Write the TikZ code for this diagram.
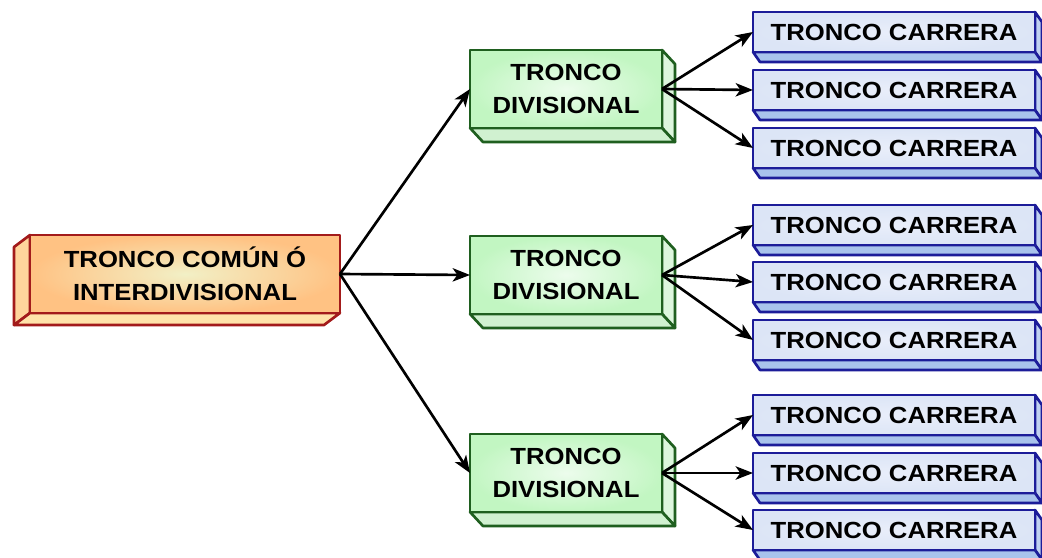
\documentclass[tikz,border=0pt]{standalone}
\usepackage{fontspec}
\newfontfamily\boxfont[FakeStretch=1.1]{Liberation Sans}
\usetikzlibrary{arrows.meta,backgrounds}

\definecolor{rootline}{HTML}{A31B1B}
\definecolor{rootout}{HTML}{FFC283}
\definecolor{rootin}{HTML}{F2F0C6}
\definecolor{rootside}{HTML}{FFD59C}
\definecolor{rootbottom}{HTML}{FFE3AA}
\definecolor{greenline}{HTML}{1F5F1F}
\definecolor{greenout}{HTML}{C2F6C2}
\definecolor{greenin}{HTML}{ECFCEC}
\definecolor{greenside}{HTML}{DDF6DD}
\definecolor{greenbottom}{HTML}{D0F1D0}
\definecolor{blueline}{HTML}{1C1C99}
\definecolor{bluein}{HTML}{E9EEFA}
\definecolor{blueout}{HTML}{DCE5F6}
\definecolor{blueside}{HTML}{BFD0F0}
\definecolor{bluebottom}{HTML}{A9C3EC}

% depth faces of a block, drawn behind its front face
\newcommand\depthright[6]{%
  \filldraw[fill=#4,draw=#6,line width=2pt,line join=round]
    (#1.north east) -- ([shift={(#2,#3)}]#1.north east)
    -- ([shift={(#2,#3)}]#1.south east) -- (#1.south east) -- cycle;
  \filldraw[fill=#5,draw=#6,line width=2pt,line join=round]
    (#1.south west) -- (#1.south east) -- ([shift={(#2,#3)}]#1.south east)
    -- ([shift={(#2,#3)}]#1.south west) -- cycle;}
\newcommand\depthleft[6]{%
  \filldraw[fill=#4,draw=#6,line width=2pt,line join=round]
    (#1.north west) -- ([shift={(#2,#3)}]#1.north west)
    -- ([shift={(#2,#3)}]#1.south west) -- (#1.south west) -- cycle;
  \filldraw[fill=#5,draw=#6,line width=2pt,line join=round]
    (#1.south west) -- (#1.south east) -- ([shift={(#2,#3)}]#1.south east)
    -- ([shift={(#2,#3)}]#1.south west) -- cycle;}

\begin{document}
\begin{tikzpicture}[x=0.75pt,y=-0.75pt,
  block/.style={draw, line width=2pt, line join=round, outer sep=0pt,
    inner sep=0pt, align=center, text=black,
    font=\boxfont\bfseries\fontsize{17.5}{24.5}\selectfont},
  rootblock/.style={block, draw=rootline, inner color=rootin, outer color=rootout,
    minimum width=232.5pt, minimum height=58.5pt},
  divblock/.style={block, draw=greenline, inner color=greenin, outer color=greenout,
    minimum width=144pt, minimum height=58.5pt},
  carblock/.style={block, draw=blueline, inner color=bluein, outer color=blueout,
    minimum width=211.5pt, minimum height=30pt},
  conn/.style={draw=black, line width=2pt,
    -{Stealth[length=13pt,width=10pt,inset=3.5pt]}}]

\useasboundingbox (0,0) rectangle (1042,557);

% front faces
\node[rootblock] (root) at (185,274) {TRONCO COMÚN Ó\\INTERDIVISIONAL};

\node[divblock] (d1) at (566,89)  {TRONCO\\DIVISIONAL};
\node[divblock] (d2) at (566,275) {TRONCO\\DIVISIONAL};
\node[divblock] (d3) at (566,473) {TRONCO\\DIVISIONAL};

\node[carblock] (c11) at (894,32)  {TRONCO CARRERA};
\node[carblock] (c12) at (894,90)  {TRONCO CARRERA};
\node[carblock] (c13) at (894,148) {TRONCO CARRERA};
\node[carblock] (c21) at (894,225) {TRONCO CARRERA};
\node[carblock] (c22) at (894,282) {TRONCO CARRERA};
\node[carblock] (c23) at (894,340) {TRONCO CARRERA};
\node[carblock] (c31) at (894,415) {TRONCO CARRERA};
\node[carblock] (c32) at (894,473) {TRONCO CARRERA};
\node[carblock] (c33) at (894,530) {TRONCO CARRERA};

% white page and depth faces behind the front faces
\begin{scope}[on background layer]
  \fill[white] (0,0) rectangle (1042,557);
  \depthleft{root}{-16}{12}{rootside}{rootbottom}{rootline}
  \foreach \n in {d1,d2,d3}
    {\depthright{\n}{13}{14}{greenside}{greenbottom}{greenline}}
  \foreach \n in {c11,c12,c13,c21,c22,c23,c31,c32,c33}
    {\depthright{\n}{7}{10}{blueside}{bluebottom}{blueline}}
\end{scope}

% connectors
\foreach \d in {d1,d2,d3}
  \draw[conn] (root.east) -- (\d.west);
\foreach \g in {1,2,3}
  \foreach \c in {1,2,3}
    \draw[conn] (d\g.east) -- (c\g\c.west);
\end{tikzpicture}
\end{document}
